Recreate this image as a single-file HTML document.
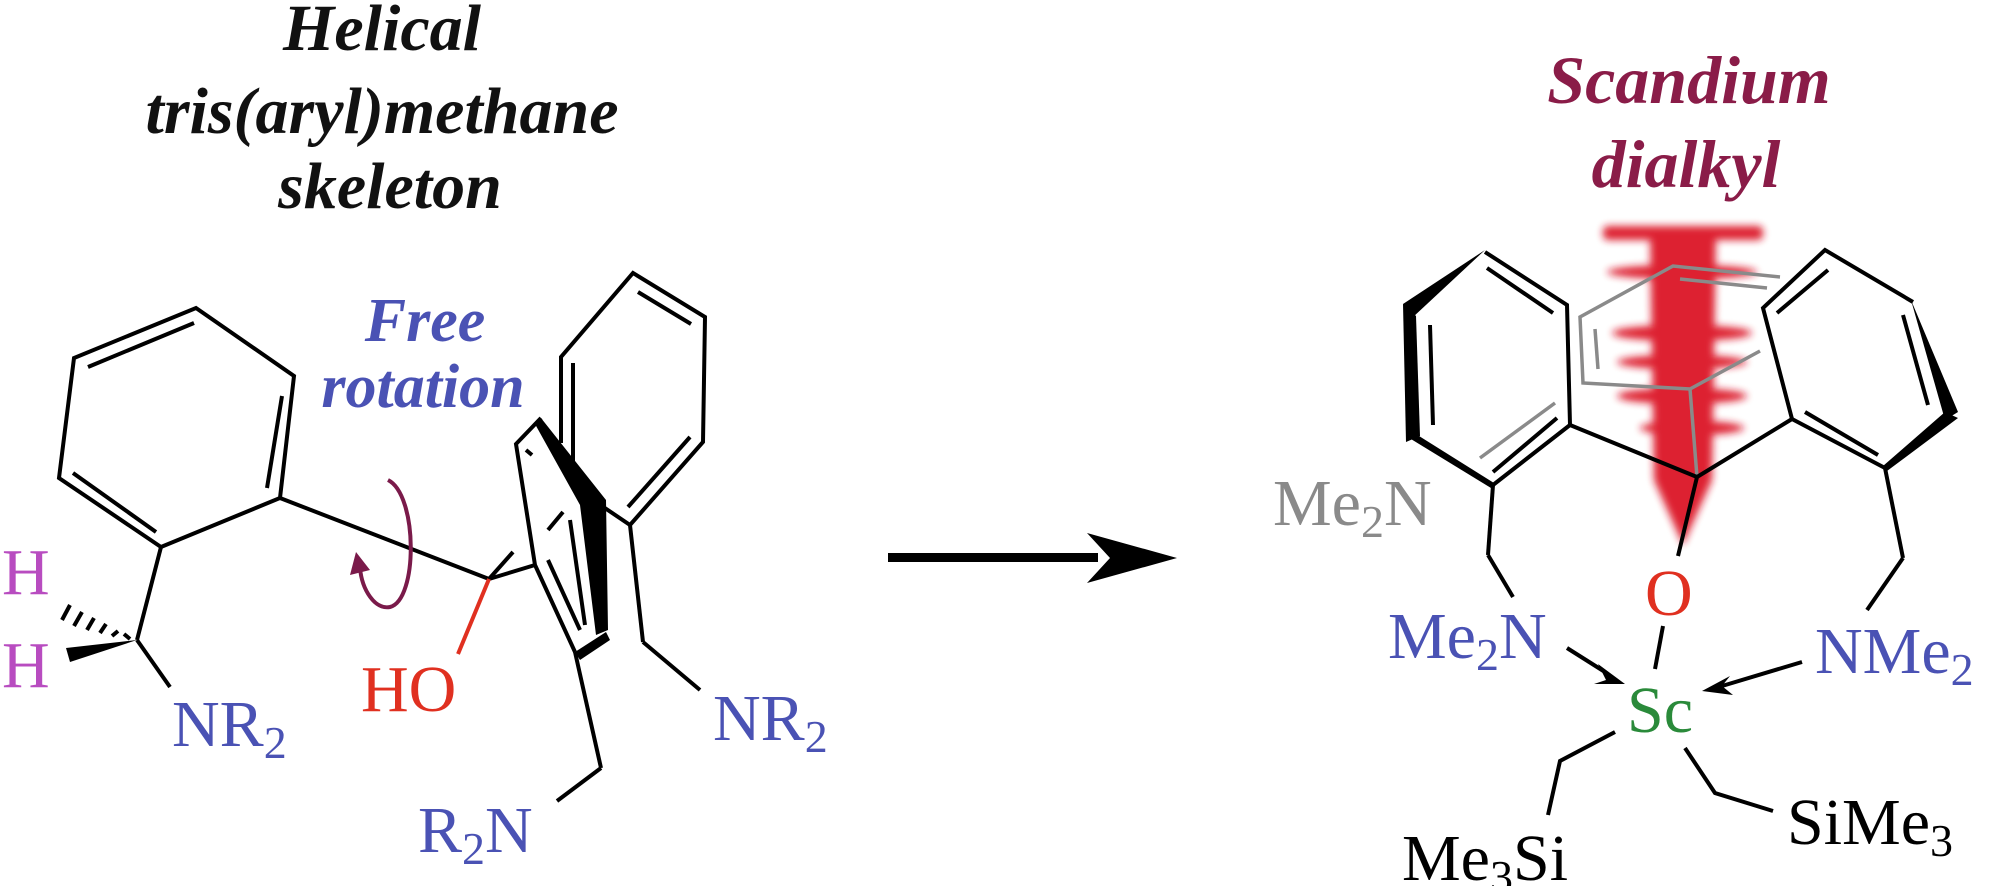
<!DOCTYPE html>
<html><head><meta charset="utf-8"><style>
html,body{margin:0;padding:0;background:#fff;}
svg{display:block;font-family:"Liberation Serif","DejaVu Serif",serif;}
svg text{font-family:"Liberation Serif","DejaVu Serif",serif;}
.bi{font-weight:bold;font-style:italic;}
</style></head><body>
<svg width="1992" height="886" viewBox="0 0 1992 886" xmlns="http://www.w3.org/2000/svg" font-family="Liberation Serif, DejaVu Serif, serif">
<defs>
<filter id="bl" x="-20%" y="-20%" width="140%" height="140%"><feGaussianBlur stdDeviation="4"/></filter>
</defs>
<g fill="#111" font-size="66" text-anchor="middle" font-weight="bold" font-style="italic">
<text x="382" y="50">Helical</text>
<text x="382" y="133">tris(aryl)methane</text>
<text x="390" y="208">skeleton</text>
</g>
<g fill="#4a52b4" font-size="62" text-anchor="middle" font-weight="bold" font-style="italic">
<text x="425" y="341">Free</text>
<text x="423" y="407">rotation</text>
</g>
<g fill="#8a1c48" font-size="68" text-anchor="middle" font-weight="bold" font-style="italic">
<text x="1689" y="103">Scandium</text>
<text x="1686" y="187">dialkyl</text>
</g>

<g stroke="#000" stroke-width="4" fill="none" stroke-linejoin="miter">
<polygon points="196,308 294,376 280,498 161,547 59,478 74,358"/>
<line x1="88" y1="367" x2="194" y2="323"/>
<line x1="282" y1="396" x2="267" y2="488"/>
<line x1="73" y1="473" x2="156" y2="532"/>
<line x1="280" y1="498" x2="489" y2="579"/>
<line x1="161" y1="547" x2="137" y2="640"/>
<line x1="137" y1="640" x2="170" y2="687"/>
<line x1="489" y1="579" x2="535" y2="565"/>
<line x1="489" y1="579" x2="513" y2="552"/>
<polyline points="541,418 516,444 535,565 575,652"/>
<line x1="548" y1="560" x2="580" y2="630"/>
<line x1="526" y1="450" x2="532" y2="455"/>
<line x1="548" y1="530" x2="563" y2="512"/>
<line x1="570" y1="520" x2="585" y2="625"/>
<line x1="575" y1="652" x2="601" y2="768"/>
<line x1="601" y1="768" x2="557" y2="801"/>
<polyline points="561,443 561,357 633,273 705,317 703,442 630,525 593,500"/>
<line x1="573" y1="363" x2="573" y2="470"/>
<line x1="638" y1="292" x2="691" y2="324"/>
<line x1="628" y1="507" x2="690" y2="437"/>
<line x1="630" y1="525" x2="643" y2="642"/>
<line x1="643" y1="642" x2="700" y2="690"/>
</g>
<polygon points="541,418 535,424 580,505 596,635 608,630 606,500" fill="#000"/>
<polygon points="575,652 606,632 610,640 580,660" fill="#000"/>
<g stroke="#000" stroke-width="4">
<line x1="130" y1="639" x2="124" y2="634"/><line x1="118" y1="631" x2="112" y2="636"/>
<line x1="106" y1="624" x2="100" y2="633"/><line x1="94" y1="618" x2="87" y2="630"/>
<line x1="82" y1="612" x2="74" y2="626"/><line x1="70" y1="605" x2="62" y2="620"/>
</g>
<polygon points="137,640 66,648 70,662" fill="#000"/>
<line x1="489" y1="579" x2="458" y2="654" stroke="#e03020" stroke-width="4"/>
<path d="M388,480 C418,495 418,600 390,607 C375,610 362,590 360,568" stroke="#7a1a4a" stroke-width="4" fill="none"/>
<polygon points="356,552 350,575 370,570" fill="#7a1a4a"/>
<g font-size="66">
<text x="2" y="594" fill="#b84cc0">H</text>
<text x="2" y="687" fill="#b84cc0">H</text>
<text x="172" y="746" fill="#4a52b4">NR<tspan font-size="46" dy="12">2</tspan></text>
<text x="361" y="711" fill="#e03020">HO</text>
<text x="418" y="852" fill="#4a52b4">R<tspan font-size="46" dy="12">2</tspan><tspan dy="-12">N</tspan></text>
<text x="713" y="740" fill="#4a52b4">NR<tspan font-size="46" dy="12">2</tspan></text>
</g>

<rect x="888" y="553" width="210" height="9" fill="#000"/>
<polygon points="1177,558 1087,533 1110,558 1087,583" fill="#000"/>

<g fill="#dc1428" filter="url(#bl)" opacity="0.95">
<rect x="1603" y="226" width="160" height="14" rx="5"/>
<polygon points="1650,232 1716,232 1712,480 1683,545 1654,480"/>
<ellipse cx="1682" cy="272" rx="75" ry="7"/>
<ellipse cx="1682" cy="333" rx="70" ry="8"/>
<ellipse cx="1682" cy="362" rx="65" ry="7"/>
<ellipse cx="1682" cy="396" rx="65" ry="8"/>
<ellipse cx="1692" cy="428" rx="52" ry="7"/>
</g>
<g stroke="#8a8a8a" stroke-width="3.5" fill="none">
<polyline points="1780,277 1673,266 1580,317 1583,383 1690,389 1760,351"/>
<line x1="1680" y1="279" x2="1767" y2="288"/>
<line x1="1595" y1="329" x2="1598" y2="369"/>
<line x1="1690" y1="389" x2="1697" y2="477"/>
<line x1="1480" y1="458" x2="1555" y2="403"/>
</g>
<g stroke="#000" stroke-width="4" fill="none">
<polyline points="1485,252 1567,305 1570,425 1493,485"/>
<line x1="1430" y1="325" x2="1433" y2="425"/>
<line x1="1487" y1="268" x2="1553" y2="313"/>
<line x1="1493" y1="472" x2="1557" y2="418"/>
<line x1="1570" y1="425" x2="1697" y2="477"/>
<line x1="1792" y1="419" x2="1697" y2="477"/>
<polyline points="1792,419 1763,308 1825,250 1913,302"/>
<line x1="1885" y1="468" x2="1792" y2="419"/>
<line x1="1903" y1="315" x2="1928" y2="405"/>
<line x1="1777" y1="313" x2="1828" y2="270"/>
<line x1="1805" y1="412" x2="1878" y2="455"/>
<line x1="1493" y1="485" x2="1488" y2="555"/>
<line x1="1488" y1="555" x2="1513" y2="597"/>
<line x1="1885" y1="468" x2="1903" y2="558"/>
<line x1="1903" y1="558" x2="1867" y2="610"/>
<line x1="1697" y1="477" x2="1678" y2="556"/>
<line x1="1663" y1="626" x2="1655" y2="669"/>
<polyline points="1615,732 1560,761 1548,815"/>
<polyline points="1685,748 1715,793 1773,811"/>
<line x1="1567" y1="648" x2="1605" y2="672"/>
<line x1="1802" y1="662" x2="1722" y2="686"/>
</g>
<polygon points="1485,250 1403,304 1412,318" fill="#000"/>
<polygon points="1403,304 1416,316 1420,436 1406,442" fill="#000"/>
<polygon points="1406,436 1419,436 1494,483 1491,488" fill="#000"/>
<polygon points="1911,300 1945,420 1958,412" fill="#000"/>
<polygon points="1945,412 1958,418 1887,471 1883,466" fill="#000"/>
<polygon points="1625,684 1598,664 1606,680 1594,684" fill="#000"/>
<polygon points="1702,691 1730,676 1722,686 1733,695" fill="#000"/>
<g font-size="66">
<text x="1273" y="525" fill="#8a8a8a">Me<tspan font-size="46" dy="12">2</tspan><tspan dy="-12">N</tspan></text>
<text x="1388" y="658" fill="#4a52b4">Me<tspan font-size="46" dy="12">2</tspan><tspan dy="-12">N</tspan></text>
<text x="1815" y="673" fill="#4a52b4">NMe<tspan font-size="46" dy="12">2</tspan></text>
<text x="1645" y="615" fill="#e03020">O</text>
<text x="1627" y="732" fill="#2a8a3a">Sc</text>
<text x="1402" y="880" fill="#000">Me<tspan font-size="46" dy="12">3</tspan><tspan dy="-12">Si</tspan></text>
<text x="1787" y="844" fill="#000">SiMe<tspan font-size="46" dy="12">3</tspan></text>
</g>
</svg>
</body></html>
